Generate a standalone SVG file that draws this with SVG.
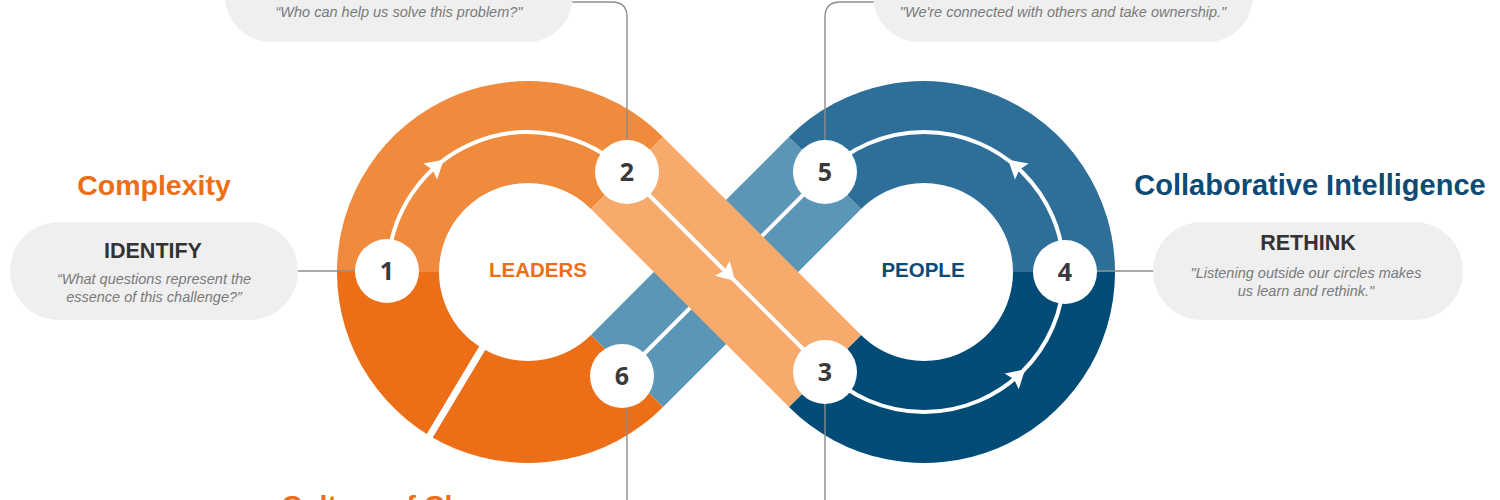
<svg xmlns="http://www.w3.org/2000/svg" width="1500" height="500" viewBox="0 0 1500 500">
  <style>
    .pill { fill: #EFEFEF; }
    .conn { fill: none; stroke: #8C8C8C; stroke-width: 1.4; }
    .dot { fill: #555555; }
    .track { fill: none; stroke: #FFFFFF; stroke-width: 4; }
    .num-c { fill: #FFFFFF; }
    .num { font-family: "Open Sans", "Liberation Sans", sans-serif; font-weight: 700; font-size: 25px; fill: #3A3A3A; text-anchor: middle; }
    .head { font-family: "Liberation Sans", Arial, sans-serif; font-weight: 700; text-anchor: middle; }
    .quote { font-family: "Liberation Sans", Arial, sans-serif; font-style: italic; font-size: 14.5px; fill: #7A7A7A; text-anchor: middle; }
    .step { font-family: "Liberation Sans", Arial, sans-serif; font-weight: 700; font-size: 21.5px; fill: #333333; text-anchor: middle; }
    .arrow { fill: #FFFFFF; }
  </style>
  <defs>
    <path id="ah" d="M10,0 L-8,-10.5 L-5,0 L-8,10.5 Z"/>
  </defs>

  <!-- infinity loop -->
  <g id="loop">
    <!-- blue crossing band (underneath) -->
    <polygon points="788.94,136.94 861.07,209.07 663.06,407.06 590.93,334.93" fill="#5C96B7"/>
    <line class="track" x1="825.01" y1="173.01" x2="626.99" y2="370.99"/>
    <!-- left ring -->
    <path d="M337,272 A191,191 0 0 1 663.06,136.94 L590.93,209.07 A89,89 0 0 0 439,272 Z" fill="#F08A3C"/>
    <path d="M663.06,407.06 A191,191 0 0 1 337,272 L439,272 A89,89 0 0 0 590.93,334.93 Z" fill="#EC6F18"/>
    <line x1="484.2" y1="344.9" x2="426" y2="442" stroke="#FFFFFF" stroke-width="7"/>
    <!-- right ring -->
    <path d="M788.94,136.94 A191,191 0 0 1 1115,272 L1013,272 A89,89 0 0 0 861.07,209.07 Z" fill="#2D6F99"/>
    <path d="M1115,272 A191,191 0 0 1 788.94,407.06 L861.07,334.93 A89,89 0 0 0 1013,272 Z" fill="#004C76"/>
    <!-- orange crossing band (on top) -->
    <polygon points="663.06,136.94 861.07,334.93 788.94,407.06 590.93,209.07" fill="#F6AB6D"/>
    <!-- tracks -->
    <path class="track" d="M388,272 A140,140 0 0 1 626.99,173.01"/>
    <path class="track" d="M825.01,370.99 A140,140 0 1 0 825.01,173.01"/>
    <line class="track" x1="626.99" y1="173.01" x2="825.01" y2="370.99"/>
    <!-- arrowheads -->
    <use href="#ah" class="arrow" transform="translate(436.2,166.3) rotate(-41)"/>
    <use href="#ah" class="arrow" transform="translate(728,274) rotate(45)"/>
    <use href="#ah" class="arrow" transform="translate(1015.8,166.3) rotate(-139)"/>
    <use href="#ah" class="arrow" transform="translate(1017.7,376) rotate(-42)"/>
    <text class="head" x="538" y="276.5" font-size="20.5" fill="#EC6F18">LEADERS</text>
    <text class="head" x="923" y="276.5" font-size="20.5" fill="#0D4A75">PEOPLE</text>
  </g>

  <!-- connectors -->
  <g id="connectors">
    <path class="conn" d="M562,2 H612 Q627,2 627,17 V140"/>
    <path class="conn" d="M889,2 H840 Q825,2 825,17 V140"/>
    <path class="conn" d="M288,271 H356"/>
    <path class="conn" d="M1096,271 H1164"/>
    <path class="conn" d="M627,408 V500"/>
    <path class="conn" d="M825,404 V500"/>
    <circle class="dot" cx="562" cy="2" r="3.2"/>
    <circle class="dot" cx="889" cy="2" r="3.2"/>
    <circle class="dot" cx="288" cy="271" r="3.2"/>
    <circle class="dot" cx="1164" cy="271" r="3.2"/>
  </g>

  <!-- numbered nodes -->
  <g id="n1"><circle class="num-c" cx="387" cy="271" r="32"/><text class="num" x="387" y="280">1</text></g>
  <g id="n2"><circle class="num-c" cx="627" cy="172" r="32"/><text class="num" x="627" y="181">2</text></g>
  <g id="n3"><circle class="num-c" cx="825" cy="372" r="32"/><text class="num" x="825" y="381">3</text></g>
  <g id="n4"><circle class="num-c" cx="1065" cy="272" r="32"/><text class="num" x="1065" y="281">4</text></g>
  <g id="n5"><circle class="num-c" cx="825" cy="172" r="32"/><text class="num" x="825" y="181">5</text></g>
  <g id="n6"><circle class="num-c" cx="622" cy="376" r="32"/><text class="num" x="622" y="385">6</text></g>

  <!-- callouts -->
  <g id="callout-2">
    <rect class="pill" x="225" y="-58" width="348" height="100" rx="46"/>
    <text class="quote" x="399" y="17" font-size="15.3">“Who can help us solve this problem?"</text>
  </g>
  <g id="callout-5">
    <rect class="pill" x="873" y="-58" width="380" height="100" rx="46"/>
    <text class="quote" x="1063" y="17" font-size="15.3">"We're connected with others and take ownership."</text>
  </g>
  <g id="callout-1">
    <text class="head" x="154" y="195" font-size="28.5" fill="#EC6F18">Complexity</text>
    <rect class="pill" x="10" y="222" width="288" height="98" rx="49"/>
    <text class="step" x="153" y="258">IDENTIFY</text>
    <text class="quote" x="154" y="284">“What questions represent the</text>
    <text class="quote" x="154" y="302">essence of this challenge?”</text>
  </g>
  <g id="callout-4">
    <text class="head" x="1310" y="195" font-size="29" fill="#0D4A75">Collaborative Intelligence</text>
    <rect class="pill" x="1153" y="222" width="310" height="98" rx="49"/>
    <text class="step" x="1308" y="250">RETHINK</text>
    <text class="quote" x="1306" y="278">"Listening outside our circles makes</text>
    <text class="quote" x="1306" y="296">us learn and rethink."</text>
  </g>
  <g id="callout-6">
    <text class="head" x="405" y="515" font-size="28.5" fill="#EC6F18">Culture of Change</text>
  </g>
</svg>
